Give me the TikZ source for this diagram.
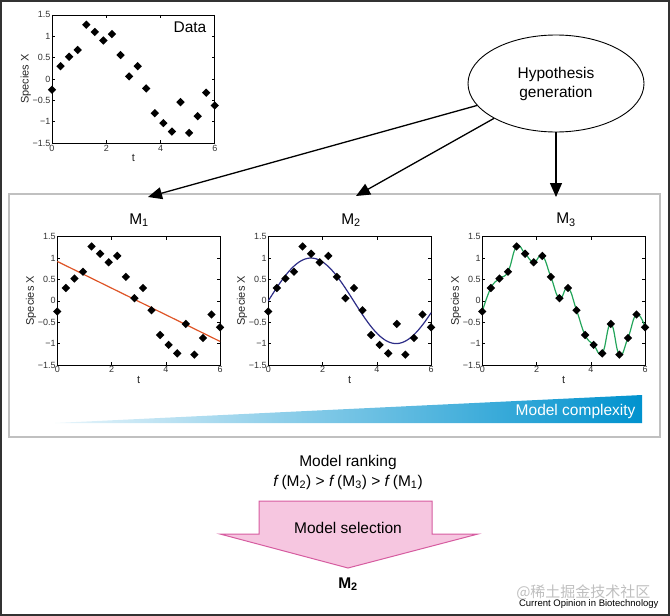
\documentclass[tikz,border=0pt]{standalone}
\usepackage{fontspec}
\setmainfont{Liberation Sans}
\newfontfamily\cjk{Noto Sans CJK SC}
\usetikzlibrary{shapes.geometric,arrows.meta}
\definecolor{fitred}{RGB}{222,84,38}
\definecolor{fitblue}{RGB}{45,45,135}
\definecolor{fitgreen}{RGB}{35,165,90}
\definecolor{selpink}{RGB}{246,198,224}
\definecolor{seledge}{RGB}{214,92,160}
\definecolor{cxblue}{RGB}{0,146,206}
\definecolor{cxmid}{RGB}{50,182,225}
\definecolor{cxlight}{RGB}{232,245,251}
\definecolor{boxgray}{RGB}{192,192,192}
\definecolor{framegray}{RGB}{50,50,50}

\begin{document}
\begin{tikzpicture}[x=1pt, y=-1pt,
  panel/.style = {line width=0.6pt},
  ticklbl/.style = {font=\fontsize{9}{9}\selectfont, inner sep=1.5pt, text=black!80},
  axlbl/.style = {font=\fontsize{11}{11}\selectfont, text=black!85},
  dot/.style = {diamond, fill=black, inner sep=0pt, minimum size=8.5pt},
  title/.style = {font=\fontsize{15.5}{19}\selectfont, align=center},
  link/.style = {-{Triangle[length=14pt,width=12pt]}, line width=1.3pt}]
  \useasboundingbox (0,0) rectangle (670,616);
  \draw[framegray, line width=2pt] (1,1) rectangle (669,615);
  \draw[boxgray, line width=1.5pt] (9,194) rectangle (660,437);

  \foreach \px/\py [count=\k] in {52/79, 57.3/300.8, 268.3/300.8, 482.3/300.8} {
    \begin{scope}[shift={(\px,\py)}, x=27.13pt, y=42.77pt]
      \draw[panel] (0,-1.5) rectangle (6,1.5);
      \foreach \tk [count=\j] in {0,2,4,6} {
        \draw[panel] (\tk,-1.5) -- ++(0,3pt) (\tk,1.5) -- ++(0,-3pt);
        \node[ticklbl, below] (xt\k-\j) at (\tk,-1.5) {\tk};
      }
      \foreach \v/\s [count=\j] in {-1.5/−1.5, -1/−1, -0.5/−0.5, 0/0, 0.5/0.5, 1/1, 1.5/1.5} {
        \draw[panel] (0,\v) -- ++(3pt,0) (6,\v) -- ++(-3pt,0);
        \node[ticklbl, left] (yt\k-\j) at (0,\v) {\s};
      }
      \node[axlbl, rotate=90] (ylab\k) at (-0.97,0) {Species X};
      \node[axlbl] (xlab\k) at (3,-1.84) {t};
    \end{scope}
  }

  \begin{scope}[shift={(57.3,300.8)}, x=27.13pt, y=42.77pt]
    \draw[fitred, line width=1.2pt] (0,0.92) -- (6,-0.95);
  \end{scope}
  \begin{scope}[shift={(268.3,300.8)}, x=27.13pt, y=42.77pt]
    \draw[fitblue, line width=1.2pt] plot[domain=0:6, samples=80] (\x,{sin(\x r)});
  \end{scope}
  \begin{scope}[shift={(482.3,300.8)}, x=27.13pt, y=42.77pt]
    \draw[fitgreen, line width=1.2pt] plot[smooth, tension=0.8] coordinates {
      (0,-0.25) (0.316,0.3) (0.632,0.52) (0.947,0.68) (1.263,1.27) (1.579,1.1)
      (1.895,0.9) (2.211,1.05) (2.526,0.56) (2.842,0.06) (3.158,0.3) (3.474,-0.22)
      (3.789,-0.8) (4.105,-1.03) (4.421,-1.23) (4.737,-0.54) (5.053,-1.26)
      (5.368,-0.87) (5.684,-0.32) (6,-0.62)};
  \end{scope}

  \foreach \px/\py [count=\k] in {52/79, 57.3/300.8, 268.3/300.8, 482.3/300.8} {
    \begin{scope}[shift={(\px,\py)}, x=27.13pt, y=42.77pt]
      \foreach \v [count=\i from 0] in {-0.25,0.3,0.52,0.68,1.27,1.1,0.9,1.05,0.56,0.06,0.3,-0.22,-0.8,-1.03,-1.23,-0.54,-1.26,-0.87,-0.32,-0.62}
        \node[dot] (d\k-\i) at ({\i*6/19},\v) {};
    \end{scope}
  }

  \node[title] (data) at (190,27) {Data};
  \node[title] (m1) at (139,220) {M\textsubscript{1}};
  \node[title] (m2) at (351,220) {M\textsubscript{2}};
  \node[title] (m3) at (566,220) {M\textsubscript{3}};

  \node[title, ellipse, draw, line width=0.9pt, minimum width=176pt, minimum height=97pt] (hyp) at (556,83.5) {Hypothesis\\generation};
  \coordinate (a1) at (148,197);
  \coordinate (a2) at (356,196);
  \coordinate (a3) at (hyp.south |- 0,197);
  \draw[link] (hyp) -- (a1);
  \draw[link] (hyp) -- (a2);
  \draw[link] (hyp.south) -- (a3);

  \shade[left color=cxlight, middle color=cxmid, right color=cxblue] (55,423) -- (642,395) -- (642,423) -- cycle;
  \node[title, text=white, anchor=east] (cx) at (639,411) {Model complexity};

  \node[title] (rank) at (348,462) {Model ranking};
  \node[title] (order) at (348,482) {\textit{f}\,(M\textsubscript{2}) > \textit{f}\,(M\textsubscript{3}) > \textit{f}\,(M\textsubscript{1})};
  \draw[seledge, fill=selpink, line width=1pt] (259,501) -- (432,501) -- (432,534) -- (478,534) -- (348,568) -- (220,534) -- (259,534) -- cycle;
  \node[title] (sel) at (348,528) {Model selection};
  \node[title, font=\fontsize{15.5}{19}\selectfont\bfseries] (best) at (348,584) {M\textsubscript{2}};

  \node[font=\cjk\fontsize{15}{16}\selectfont, text=black!25, anchor=east] (wm) at (654,592) {@稀土掘金技术社区};
  \node[font=\fontsize{9.5}{10}\selectfont, anchor=east] (src) at (662,604) {Current Opinion in Biotechnology};
\end{tikzpicture}
\end{document}
